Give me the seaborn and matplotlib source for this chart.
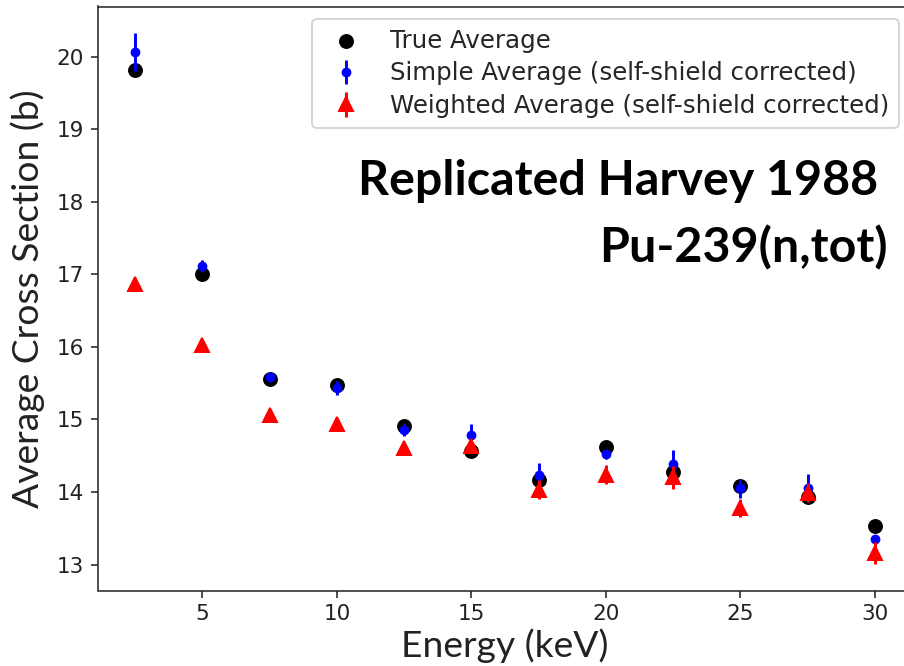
import numpy as np
import pandas as pd
import matplotlib
matplotlib.use("Agg")
import matplotlib.pyplot as plt
import seaborn as sns

energy = [2.5, 5, 7.5, 10, 12.5, 15, 17.5, 20, 22.5, 25, 27.5, 30]
true_avg = [19.81, 17.01, 15.55, 15.47, 14.91, 14.56, 14.16, 14.62, 14.27, 14.08, 13.93, 13.53]
simple_avg = [20.06, 17.11, 15.58, 15.43, 14.86, 14.78, 14.24, 14.52, 14.38, 14.05, 14.06, 13.35]
simple_err = [0.26, 0.08, 0.07, 0.10, 0.09, 0.16, 0.16, 0.06, 0.20, 0.13, 0.19, 0.05]
weighted_avg = [16.87, 16.03, 15.06, 14.93, 14.61, 14.63, 14.03, 14.24, 14.20, 13.78, 13.99, 13.16]
weighted_err = [0.05, 0.05, 0.06, 0.08, 0.07, 0.10, 0.13, 0.13, 0.16, 0.12, 0.13, 0.15]

labels = ["True Average", "Simple Average (self-shield corrected)",
          "Weighted Average (self-shield corrected)"]

df = pd.DataFrame({"energy": energy, "true": true_avg})

sns.set_style("ticks")
plt.rcParams["font.family"] = ["DejaVu Sans"]

DPI = 141
fig = plt.figure(figsize=(904 / DPI, 666 / DPI), dpi=DPI)
ax = fig.add_axes([97.5 / 904, 1 - 590.5 / 666, 815.1 / 904, 584 / 666])

sns.scatterplot(data=df, x="energy", y="true", ax=ax, color="black", s=58,
                marker="o", edgecolor="black", linewidth=0, label=labels[0], zorder=2)
ax.errorbar(energy, simple_avg, yerr=simple_err, fmt="o", color="blue",
            ms=4, elinewidth=1.5, capsize=0, label=labels[1], zorder=3)
ax.errorbar(energy, weighted_avg, yerr=weighted_err, fmt="^", color="red",
            ms=7, elinewidth=1.5, capsize=0, label=labels[2], zorder=4)

ax.set_xlim(1.1, 31.4)
ax.set_ylim(12.642, 20.69)
ax.set_xticks([5, 10, 15, 20, 25, 30])
ax.set_yticks([13, 14, 15, 16, 17, 18, 19, 20])
ax.tick_params(labelsize=11, length=3.5, width=0.8, colors="#222222", labelcolor="#222222")
for s in ax.spines.values():
    s.set_linewidth(0.8)
    s.set_visible(True)

ax.set_xlabel("Energy (keV)", family=["Lato", "DejaVu Sans"], fontsize=19, color="#222222",
              labelpad=2)
ax.set_ylabel("Average Cross Section (b)", family=["Lato", "DejaVu Sans"], fontsize=19,
              color="#222222", labelpad=6)

leg = ax.legend(loc="upper right", bbox_to_anchor=(899 / 904, 1 - 19 / 666),
                bbox_transform=fig.transFigure, borderaxespad=0, fontsize=12.5,
                labelspacing=0.35, frameon=True)
leg.get_frame().set_edgecolor("#cccccc")

fig.text(878 / 904, 1 - 195 / 666, "Replicated Harvey 1988", ha="right", va="baseline",
         family=["Lato", "DejaVu Sans"], fontweight="bold", fontsize=24.7, color="black")
fig.text(888 / 904, 1 - 262 / 666, "Pu-239(n,tot)", ha="right", va="baseline",
         family=["Lato", "DejaVu Sans"], fontweight="bold", fontsize=24.7, color="black")

fig.savefig("out.png", dpi=DPI)
